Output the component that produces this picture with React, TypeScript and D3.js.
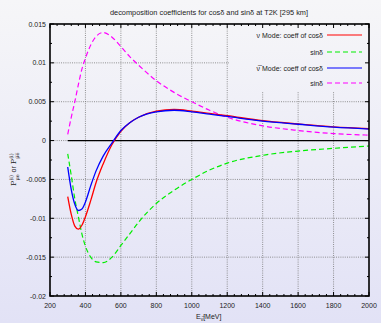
import React from 'react';
import * as d3 from 'd3';

const energies = [300, 320, 340, 360, 380, 400, 430, 460, 500, 550, 600, 650, 700, 800, 900, 1000, 1100, 1200, 1400, 1600, 1800, 2000];
const nuCos = [-0.0072, -0.0095, -0.0110, -0.0114, -0.0109, -0.0098, -0.0077, -0.0054, -0.0030, -0.0005, 0.0012, 0.0023, 0.0030, 0.0038, 0.0040, 0.0038, 0.0035, 0.0032, 0.00256, 0.00214, 0.00177, 0.00153];
const nuSin = [-0.0017, -0.0045, -0.0075, -0.0098, -0.0120, -0.0136, -0.0150, -0.0156, -0.0157, -0.0150, -0.0135, -0.0120, -0.0105, -0.0081, -0.0064, -0.0050, -0.0038, -0.0029, -0.0019, -0.00135, -0.0010, -0.0007];
const barCos = [-0.0034, -0.0063, -0.0082, -0.0090, -0.0088, -0.0079, -0.0058, -0.0039, -0.0020, -0.0003, 0.0013, 0.0023, 0.0030, 0.0037, 0.0039, 0.0037, 0.0034, 0.0031, 0.0025, 0.0021, 0.00172, 0.00148];
const barSin = [0.0008, 0.0030, 0.0050, 0.0072, 0.0092, 0.0106, 0.0123, 0.0134, 0.0139, 0.0133, 0.0121, 0.0108, 0.0097, 0.0077, 0.0062, 0.0050, 0.0039, 0.0030, 0.0019, 0.0013, 0.0009, 0.0007];
const zeroLine = energies.map(() => 0);

const xTicks = [200, 400, 600, 800, 1000, 1200, 1400, 1600, 1800, 2000];
const yTicks = [0.015, 0.01, 0.005, 0, -0.005, -0.01, -0.015, -0.02];
const yTickLabels = ['0.015', '0.01', '0.005', '0', '-0.005', '-0.01', '-0.015', '-0.02'];

const W = 381, H = 323;
const L = 50, R = 369, T = 24, B = 296;
const FONT = '"Liberation Sans", Arial, sans-serif';

export default function App() {
  const x = d3.scaleLinear().domain([200, 2000]).range([L, R]);
  const y = d3.scaleLinear().domain([-0.02, 0.015]).range([B, T]);
  const line = (vals: number[]) =>
    d3.line<number>().x((_, i) => x(energies[i])).y((v) => y(v)).curve(d3.curveMonotoneX)(vals) || '';

  const minorX = d3.range(200, 2000.1, 40);
  const minorY = d3.range(-0.02, 0.0151, 0.0025);

  const legend = [
    { label: 'ν Mode: coeff of cosδ', color: '#ff0000', dash: '' },
    { label: 'sinδ', color: '#00ee00', dash: '5,3' },
    { label: 'ν̅ Mode: coeff of cosδ', color: '#0000ff', dash: '' },
    { label: 'sinδ', color: '#ff00ff', dash: '5,3' },
  ];
  const legendY = [35, 52, 68, 83];

  return (
    <svg width={W} height={H} style={{ position: 'absolute', left: 0, top: 0 }} fontFamily={FONT}>
      <defs>
        <linearGradient id="bg" x1="0" y1="0" x2="0" y2={H} gradientUnits="userSpaceOnUse">
          <stop offset="0" stopColor="#f6f6f8" />
          <stop offset="1" stopColor="#e2e2f6" />
        </linearGradient>
      </defs>
      <rect x={0} y={0} width={W} height={H} fill="url(#bg)" />
      <text x={209} y={15} fontSize={7} textAnchor="middle" fill="#222" textLength={198} lengthAdjust="spacingAndGlyphs">
        decomposition coefficients for cosδ and sinδ at T2K [295 km]
      </text>
      {/* grid */}
      {xTicks.slice(1, -1).map((t) => (
        <line key={'gx' + t} x1={x(t)} x2={x(t)} y1={T} y2={B} stroke="#777" strokeWidth={0.8} strokeDasharray="1,1.2" />
      ))}
      {yTicks.slice(1, -1).map((t) => (
        <line key={'gy' + t} x1={L} x2={R} y1={y(t)} y2={y(t)} stroke="#777" strokeWidth={0.8} strokeDasharray="1,1.2" />
      ))}
      {/* legend background */}
      <rect x={229} y={T + 1} width={R - 229 - 1} height={66} fill="url(#bg)" />
      {/* curves */}
      <path d={line(zeroLine)} fill="none" stroke="#000" strokeWidth={1.2} />
      <path d={line(nuSin)} fill="none" stroke="#00ee00" strokeWidth={1.2} strokeDasharray="5,3" />
      <path d={line(barSin)} fill="none" stroke="#ff00ff" strokeWidth={1.2} strokeDasharray="5,3" />
      <path d={line(nuCos)} fill="none" stroke="#ff0000" strokeWidth={1.3} />
      <path d={line(barCos)} fill="none" stroke="#0000ff" strokeWidth={1.3} />
      {/* frame */}
      <rect x={L} y={T} width={R - L} height={B - T} fill="none" stroke="#000" strokeWidth={1.6} />
      {/* ticks */}
      {minorX.map((t, i) => {
        const major = Math.abs(((t - 200) % 200)) < 1e-6;
        const len = major ? 4 : 2;
        return (
          <g key={'tx' + i}>
            <line x1={x(t)} x2={x(t)} y1={B} y2={B - len} stroke="#000" strokeWidth={1} />
            <line x1={x(t)} x2={x(t)} y1={T} y2={T + len} stroke="#000" strokeWidth={1} />
          </g>
        );
      })}
      {minorY.map((t, i) => {
        const major = i % 2 === 0;
        const len = major ? 4 : 2;
        return (
          <g key={'ty' + i}>
            <line x1={L} x2={L + len} y1={y(t)} y2={y(t)} stroke="#000" strokeWidth={1} />
            <line x1={R} x2={R - len} y1={y(t)} y2={y(t)} stroke="#000" strokeWidth={1} />
          </g>
        );
      })}
      {/* tick labels */}
      {xTicks.map((t) => (
        <text key={'xl' + t} x={x(t)} y={308} fontSize={7} textAnchor="middle" fill="#222">
          {t}
        </text>
      ))}
      {yTicks.map((t, i) => (
        <text key={'yl' + t} x={46} y={y(t) + 2.5} fontSize={7} textAnchor="end" fill="#222">
          {yTickLabels[i]}
        </text>
      ))}
      {/* axis titles */}
      <text x={196} y={319} fontSize={7} fill="#222">
        E<tspan fontSize={5} dy={1.5}>ν̅</tspan>
        <tspan dy={-1.5}>[MeV]</tspan>
      </text>
      <g transform="translate(16,186) rotate(-90)">
        <text x={0} y={0} fontSize={8} fill="#222" fontFamily='"DejaVu Serif", serif'>
          P<tspan fontSize={5} dy={-3.5}>(i)</tspan>
          <tspan fontSize={5} dx={-5.5} dy={6}>μe</tspan>
          <tspan dy={-2.5} fontSize={7} fontFamily={FONT}> or </tspan>
          <tspan dy={0}>P</tspan>
          <tspan fontSize={5} dy={-3.5}>(i)</tspan>
          <tspan fontSize={5} dx={-5.5} dy={6}>μ̅e̅</tspan>
        </text>
      </g>
      {/* legend */}
      {legend.map((d, i) => (
        <g key={'lg' + i}>
          <text x={323} y={legendY[i] + 2.5} fontSize={7} textAnchor="end" fill="#222">
            {d.label}
          </text>
          <line x1={327} x2={362} y1={legendY[i]} y2={legendY[i]} stroke={d.color} strokeWidth={1.2} strokeDasharray={d.dash} />
        </g>
      ))}
    </svg>
  );
}
